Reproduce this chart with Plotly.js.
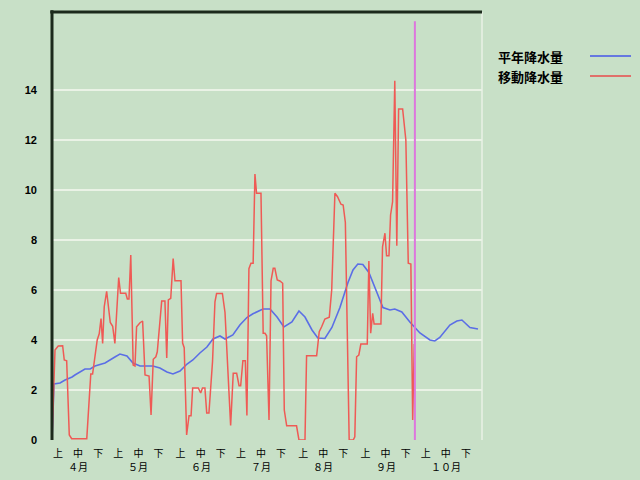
<!DOCTYPE html>
<html>
<head>
<meta charset="utf-8">
<script src="https://cdn.plot.ly/plotly-3.0.1.min.js"></script>
<style>html,body{margin:0;padding:0;background:#c8e0c7;}#chart{width:640px;height:480px;}</style>
</head>
<body>
<div id="chart"></div>
<script>
// Days counted from April 1 (day 0)
const normalDay = [0, 1, 4, 6.5, 10, 11.4, 16.4, 19, 21.4, 26.4, 31.3, 33.8, 37.3, 40.3, 43.8, 50.2, 53.7, 57.2, 60.2, 63.7, 67.2, 70.1, 73.6, 77.1, 80.1, 83.6, 86.1, 90, 93.5, 97, 100, 105, 108.5, 112, 115.4, 119.4, 122.9, 125.9, 129.4, 132.3, 135.8, 139.3, 143.3, 147.3, 149.8, 152.2, 154.7, 157.7, 161.7, 164.7, 168.2, 170.6, 174.1, 178.1, 183.1, 188.1, 190.5, 193, 198, 201.5, 204, 208, 212];
const normalPrecip = [0, 2.24, 2.28, 2.4, 2.52, 2.6, 2.84, 2.84, 2.96, 3.08, 3.32, 3.44, 3.36, 3.08, 2.96, 2.96, 2.88, 2.72, 2.64, 2.76, 3.04, 3.2, 3.48, 3.72, 4.04, 4.16, 4.04, 4.2, 4.6, 4.9, 5.05, 5.24, 5.24, 4.92, 4.52, 4.72, 5.16, 4.92, 4.4, 4.08, 4.06, 4.5, 5.3, 6.3, 6.8, 7.04, 7.02, 6.7, 5.9, 5.3, 5.2, 5.24, 5.12, 4.72, 4.28, 4.0, 3.96, 4.1, 4.6, 4.76, 4.8, 4.5, 4.44];

const movingDay = [0, 1.5, 3.1, 5.3, 6.1, 7.3, 8.6, 9.8, 17.3, 19.3, 20.2, 21.4, 22.5, 23.5, 24.4, 25.2, 26.0, 27.2, 29.0, 30.2, 31.3, 33.2, 34.1, 36.7, 37.5, 38.3, 39.2, 40.4, 41.3, 42.1, 43.8, 45.1, 46.3, 48.3, 49.3, 50.4, 51.7, 52.4, 53.7, 54.6, 56.2, 57.1, 57.9, 59.1, 60.3, 61.2, 64.2, 65.0, 65.8, 67.0, 68.2, 69.2, 70.0, 72.8, 74.0, 74.9, 76.1, 77.0, 78.1, 79.9, 81.1, 81.9, 84.8, 86.1, 88.9, 90.2, 91.9, 93.1, 93.9, 95.0, 96.2, 97.0, 98.0, 99.0, 100.1, 101.0, 101.8, 104.0, 105.1, 106.0, 106.8, 108.0, 109.0, 110.1, 110.9, 112.1, 113.4, 114.8, 115.6, 116.8, 121.7, 122.9, 125.9, 126.7, 131.7, 133.0, 134.2, 135.8, 138.0, 139.2, 140.8, 142.1, 143.8, 144.9, 146.0, 147.9, 149.9, 150.7, 151.6, 152.7, 153.7, 156.9, 157.7, 158.6, 159.6, 160.3, 163.7, 164.5, 165.7, 166.5, 167.7, 168.5, 169.5, 170.6, 171.6, 172.5, 174.5, 176.1, 177.3, 178.6, 179.5, 180.3];
const movingPrecip = [0, 3.6, 3.76, 3.77, 3.2, 3.17, 0.2, 0.05, 0.05, 2.64, 2.64, 3.4, 4.0, 4.25, 4.86, 3.86, 5.33, 5.95, 4.7, 4.55, 3.86, 6.5, 5.87, 5.87, 5.64, 5.64, 7.4, 3.0, 2.96, 4.53, 4.69, 4.76, 2.6, 2.56, 1.0, 3.23, 3.33, 3.53, 4.88, 5.56, 5.56, 3.28, 5.6, 5.67, 7.26, 6.37, 6.37, 3.88, 3.69, 0.2, 0.97, 0.97, 2.08, 2.08, 1.88, 2.08, 2.08, 1.08, 1.08, 3.15, 5.53, 5.86, 5.86, 5.1, 0.58, 2.67, 2.67, 2.17, 2.17, 3.17, 3.17, 0.98, 6.85, 7.07, 7.07, 10.64, 9.87, 9.87, 4.27, 4.27, 4.17, 0.8, 6.37, 6.87, 6.87, 6.4, 6.36, 6.27, 1.2, 0.57, 0.57, 0, 0, 3.37, 3.37, 4.33, 4.53, 4.84, 4.91, 6.0, 9.87, 9.73, 9.43, 9.4, 8.7, 0, 0, 0.13, 3.33, 3.4, 3.84, 3.84, 7.16, 4.27, 5.07, 4.64, 4.64, 7.73, 8.27, 7.37, 7.37, 9.0, 9.53, 14.37, 7.77, 13.24, 13.24, 12.0, 7.07, 7.04, 0.8, 3.84];

const todayDay = 180.6;
const monthStarts = [0, 30, 61, 91, 122, 153, 183];
const monthLabels = ['４月', '５月', '６月', '７月', '８月', '９月', '１０月'];
const dekadLabels = ['上', '中', '下'];
const dekadOffsets = [3, 13, 23];
const seriesNames = ['平年降水量', '移動降水量'];
const yTicks = [0, 2, 4, 6, 8, 10, 12, 14];

const tickvals = [], ticktext = [];
monthStarts.forEach((s, i) => {
  dekadOffsets.forEach((o, j) => {
    tickvals.push(s + o);
    ticktext.push(dekadLabels[j]);
  });
});

const blue = '#5b6ee6', red = '#ef5a55';
const traces = [
  {x: normalDay, y: normalPrecip, type: 'scatter', mode: 'lines', line: {color: blue, width: 1.6}, name: seriesNames[0], hoverinfo: 'skip'},
  {x: movingDay, y: movingPrecip, type: 'scatter', mode: 'lines', line: {color: red, width: 1.5}, name: seriesNames[1], hoverinfo: 'skip'}
];

const px = v => (v - 52) / 430;
const py = v => (440 - v) / 428;

const monthAnnotations = monthStarts.map((s, i) => ({
  xref: 'x', yref: 'paper', x: s + dekadOffsets[1], y: py(466), xanchor: 'center', yanchor: 'middle',
  showarrow: false, text: monthLabels[i], font: {family: 'Noto Sans CJK JP', size: 10, color: '#000'}
}));

const layout = {
  width: 640, height: 480,
  margin: {l: 52, r: 158, t: 12, b: 40, pad: 0},
  paper_bgcolor: '#c8e0c7', plot_bgcolor: '#c8e0c7',
  showlegend: false,
  xaxis: {range: [0, 214], showgrid: false, zeroline: false, showline: false, ticks: '',
    tickmode: 'array', tickvals: tickvals, ticktext: ticktext, tickangle: 0,
    tickfont: {family: 'Noto Sans CJK JP', size: 10, color: '#000'}, ticklabelstandoff: 6},
  yaxis: {range: [0, 17.12], tickmode: 'array', tickvals: yTicks, showgrid: true, gridcolor: '#eaf2e6', gridwidth: 1.5,
    zeroline: false, showline: false, ticks: '',
    tickfont: {family: 'Liberation Sans', size: 11, color: '#000', weight: 'bold'}, ticklabelstandoff: 14},
  shapes: [
    {type: 'line', xref: 'x', yref: 'y', x0: todayDay, x1: todayDay, y0: 0, y1: 16.75, line: {color: '#dd77dd', width: 2}},
    {type: 'line', xref: 'paper', yref: 'paper', x0: 1, x1: 1, y0: 0, y1: 1, line: {color: '#eaf2e6', width: 1.5}},
    {type: 'line', xref: 'paper', yref: 'paper', x0: 0, x1: 0, y0: 0, y1: 1.004, line: {color: '#1c2a1c', width: 3}},
    {type: 'line', xref: 'paper', yref: 'paper', x0: -0.004, x1: 1, y0: 1, y1: 1, line: {color: '#1c2a1c', width: 3}},
    {type: 'line', xref: 'paper', yref: 'paper', x0: px(590), x1: px(631), y0: py(56), y1: py(56), line: {color: '#6678e0', width: 2}},
    {type: 'line', xref: 'paper', yref: 'paper', x0: px(590), x1: px(631), y0: py(76), y1: py(76), line: {color: '#e0706a', width: 2}}
  ],
  annotations: [
    {xref: 'paper', yref: 'paper', x: px(496), y: py(56), xanchor: 'left', yanchor: 'middle', showarrow: false,
      text: '<b>' + seriesNames[0] + '</b>', font: {family: 'Noto Sans CJK JP', size: 13, color: '#000'}},
    {xref: 'paper', yref: 'paper', x: px(496), y: py(76), xanchor: 'left', yanchor: 'middle', showarrow: false,
      text: '<b>' + seriesNames[1] + '</b>', font: {family: 'Noto Sans CJK JP', size: 13, color: '#000'}}
  ].concat(monthAnnotations)
};

Plotly.newPlot('chart', traces, layout, {displayModeBar: false, staticPlot: true});
</script>
</body>
</html>
